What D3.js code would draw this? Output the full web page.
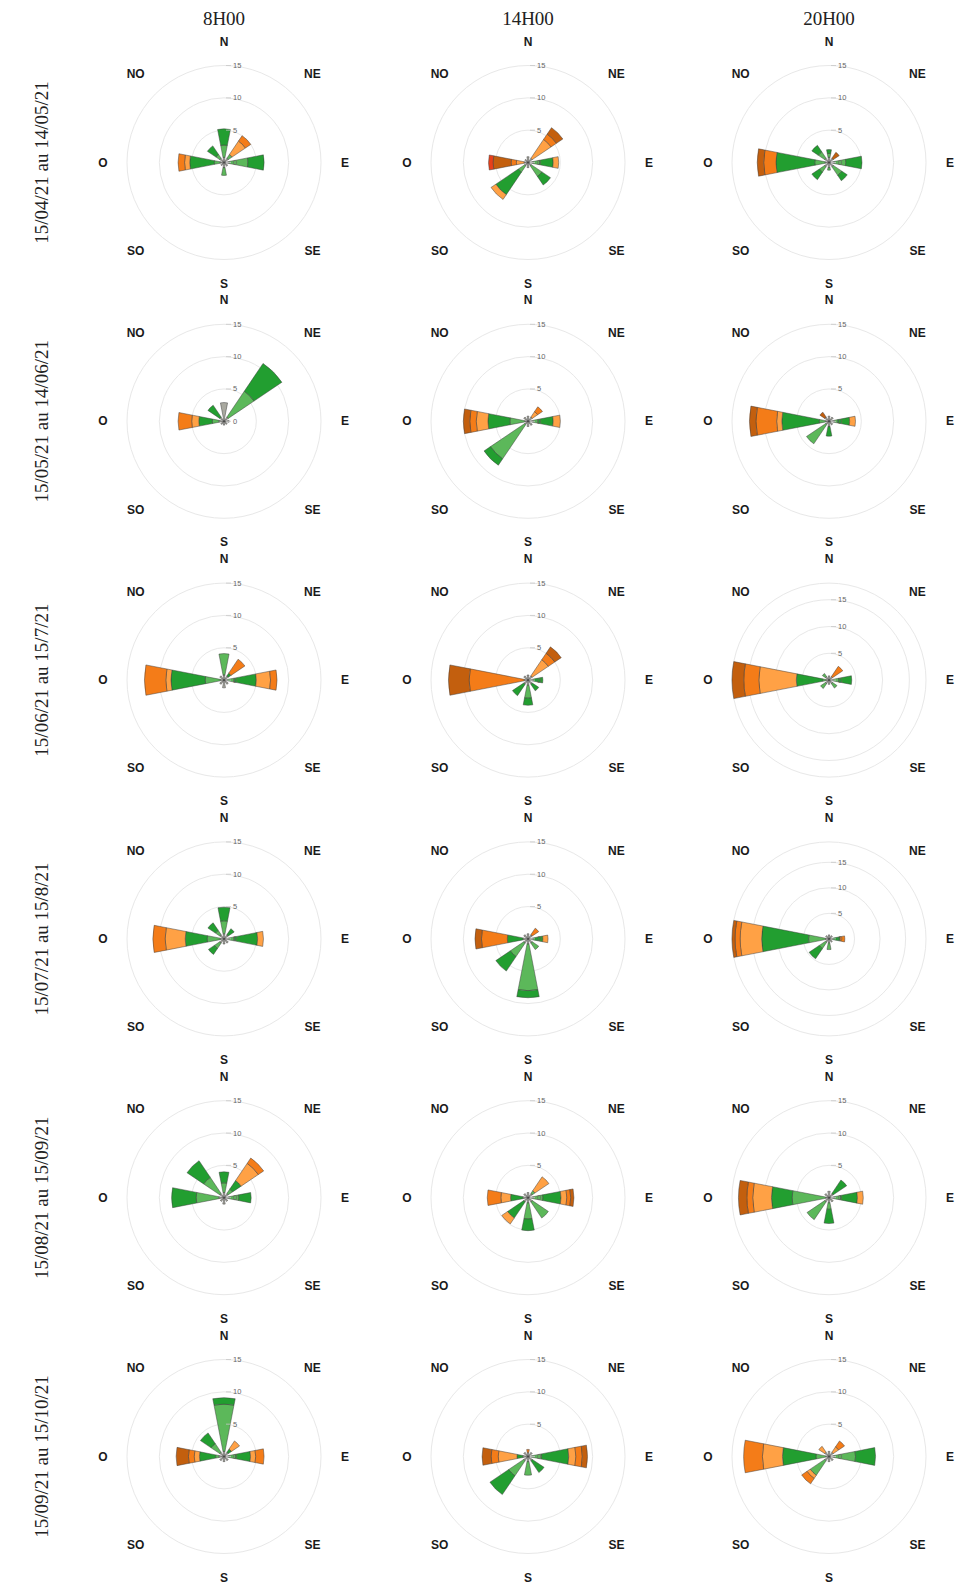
<!DOCTYPE html>
<html><head><meta charset="utf-8">
<script src="https://cdn.jsdelivr.net/npm/d3@7"></script>
<style>body{margin:0;background:#fff}</style>
</head><body>
<svg id="chart" width="979" height="1586"></svg>
<script>
// ---------- DATA ----------
const directions = ["N","NE","E","SE","S","SO","O","NO"];
const hours = ["8H00","14H00","20H00"];
const periods = ["15/04/21 au 14/05/21","15/05/21 au 14/06/21","15/06/21 au 15/7/21",
                 "15/07/21 au 15/8/21","15/08/21 au 15/09/21","15/09/21 au 15/10/21"];
const speedClasses = ["c0","c1","c2","c3","c4","c5","c6"];
const classColors = ["#a9a9a0","#5cb85a","#229e30","#ffa145","#f47c18","#c35f0e","#e8401a"];
const radialTicks = [0,5,10,15];
const baseMax = 15;

// each rose: per direction (N,NE,E,SE,S,SO,O,NO) the stacked frequency of each speed class
const r1_8h  = [[.8,1.9,2.5],[.8,.7,0,2.5,1.0],[.8,2.9,2.5],[.7],[.8,1.2],[.6],[.6,.9,3.8,.8,1.0],[.8,.7,1.6]];
const r1_14h = [[.9],[.8,0,0,3.5,1.0,1.2],[.8,1.0,2.1,.85],[.6,2.0,1.6],[.8],[.6,1.2,4.2,.9],[.6,0,0,1.2,.8,2.8,.7],[.6]];
const r1_20h = [[.8,.6,.6],[.8,0,0,0,0,1.1],[.8,1.8,2.5],[.8,1.6,1.0],[.8,.4],[.8,1.0,1.4],[.6,1.6,6.0,0,1.9,1.0],[.8,1.2,1.2]];
const r2_8h  = [[2.9],[.8,4.8,5.2],[.8],[.6],[.6],[.6],[.8,1.0,2.1,1.1,2.1],[.8,0,2.2]];
const r2_14h = [[.8],[.8,0,0,1.0,.9],[.8,.8,2.3,1.1],[.8],[.8],[.6,6.4,1.2],[.5,2.3,3.4,1.8,1.0,1.0],[.8]];
const r2_20h = [[.8],[.8],[.8,.6,1.8,.9],[.7],[.8,0,1.5],[.6,3.6],[.5,1.0,5.8,.8,3.2,1.0],[.8,0,0,0,0,.9]];
const r3_8h  = [[.8,3.3],[.8,0,.5,0,2.6],[.6,1.0,3.4,2.2,1.0],[.8],[1.2],[.8],[.6,2.3,5.3,.8,3.3],[.8]];
const r3_14h = [[.8],[.8,0,0,3.0,1.2,1.2],[.8,0,1.5],[.8,0,1.2],[.8,2.0,1.1],[.8,0,2.1],[.6,0,0,0,8.5,3.2],[.8]];
const r3_20h = [[.8],[.8,0,0,0,2.3],[.8,1.0,2.45],[.8,1.0],[.8],[.8,1.1],[.6,.6,4.9,7.0,2.8,2.2],[.8,.7]];
const r4_8h  = [[.8,2.0,2.1],[.8,0,1.1],[.8,.8,3.6,.9],[.8],[.8],[.8,1.0,1.1],[.6,2.0,3.4,3.1,1.9],[.8,.8,1.4]];
const r4_14h = [[.8],[.8,0,0,0,1.2],[.8,0,1.5,.8],[.8,1.2],[.8,7.2,1.1],[.8,2.5,2.7],[.8,0,2.4,0,4.0,1.0],[.8]];
const r4_20h = [[.8],[.8],[.8,0,1.4,0,.9],[.8],[.8,1.3],[.8,1.5,2.4],[.7,3.3,9.2,4.2,1.0,.6],[.8]];
const r5_8h  = [[.8,1.5,1.7],[.8,.8,1.6,3.2,1.0],[.8,1.5,1.9],[.7],[1.0],[.7],[.8,3.5,3.8],[.8,3.0,3.1]];
const r5_14h = [[.8],[.8,.5,0,2.6],[.8,1.5,2.8,.9,.6,.5],[.8,3.0],[.8,2.5,1.8],[.8,0,3.0,1.1],[.8,0,1.9,1.5,2.1],[.8]];
const r5_20h = [[1.0],[.8,0,2.5],[.8,1.0,2.6,.9],[.8],[.8,1.0,2.2],[.8,3.3],[.5,5.2,3.2,2.9,.9,1.3],[.8]];
const r6_8h  = [[.8,7.3,1.0],[.8,0,.6,1.5],[.8,1.0,2.3,.8,1.3],[.8],[.8],[.8],[.8,.5,2.5,.8,.9,1.9],[.8,1.6,2.0]];
const r6_14h = [[.6,0,0,0,.5],[.8],[.6,1.5,4.2,1.1,1.0,.8],[.8,0,2.2],[.8,2.1],[.8,2.8,3.5],[.8,0,.9,2.9,1.1,1.4],[.8]];
const r6_20h = [[.8],[.8,0,0,1.0,1.1],[.8,3.3,3.1],[.8],[.8],[.8,2.7,0,.6,1.0],[.5,1.5,5.2,3.1,2.9],[.8,0,0,1.1]];

const roseGrid = [
  [r1_8h, r1_14h, r1_20h],
  [r2_8h, r2_14h, r2_20h],
  [r3_8h, r3_14h, r3_20h],
  [r4_8h, r4_14h, r4_20h],
  [r5_8h, r5_14h, r5_20h],
  [r6_8h, r6_14h, r6_20h]
];

// ---------- LAYOUT ----------
const svg = d3.select("#chart");
const rowY = d3.scalePoint(periods, [162.5, 1456.5]);
const colX = d3.scaleOrdinal(hours, [224, 528, 829]);
const angle = d3.scalePoint(directions, [0, 2 * Math.PI * 7 / 8]);
const halfW = 11 * Math.PI / 180;
const R = 97;
const color = d3.scaleOrdinal(speedClasses, classColors);
const stack = d3.stack().keys(speedClasses);

// headers
svg.selectAll("text.hour").data(hours).join("text")
  .attr("x", d => colX(d)).attr("y", 18)
  .attr("text-anchor", "middle").attr("dominant-baseline", "central")
  .style("font-family", "'Liberation Serif','DejaVu Serif',serif").style("font-size", "19px")
  .attr("fill", "#222").text(d => d);

svg.selectAll("text.period").data(periods).join("text")
  .attr("transform", d => `translate(41,${rowY(d)}) rotate(-90)`)
  .attr("text-anchor", "middle").attr("dominant-baseline", "central")
  .style("font-family", "'Liberation Serif','DejaVu Serif',serif").style("font-size", "19px")
  .attr("fill", "#222").text(d => d);

roseGrid.forEach((row, ri) => {
  row.forEach((rose, ci) => {
    const cx = colX(hours[ci]), cy = rowY(periods[ri]);
    const table = directions.map((dir, di) => {
      const o = { dir };
      speedClasses.forEach((k, ki) => o[k] = rose[di][ki] || 0);
      return o;
    });
    const series = stack(table);
    const maxTotal = d3.max(series[series.length - 1], d => d[1]);
    const rMax = Math.max(baseMax, maxTotal);
    const r = d3.scaleLinear([0, rMax], [0, R]);
    const g = svg.append("g").attr("transform", `translate(${cx},${cy})`);

    // grid circles
    const ringVals = radialTicks.filter(v => v > 0);
    g.selectAll("circle.ring").data(ringVals).join("circle")
      .attr("r", d => r(d)).attr("fill", "none").attr("stroke", "#e8e8e8").attr("stroke-width", 1);
    if (rMax > baseMax) {
      g.append("circle").attr("r", r(rMax)).attr("fill", "none").attr("stroke", "#e8e8e8");
    }

    // petals
    const arc = d3.arc();
    series.forEach(s => {
      g.selectAll(null).data(s.filter(d => d[1] - d[0] > 0)).join("path")
        .attr("d", d => {
          const a = angle(d.data.dir);
          return arc({ innerRadius: r(d[0]), outerRadius: r(d[1]), startAngle: a - halfW, endAngle: a + halfW });
        })
        .attr("fill", color(s.key))
        .attr("stroke", "#3a3a3a").attr("stroke-width", 0.6).attr("stroke-opacity", 0.8);
    });

    // radial ticks
    g.selectAll("line.tick").data(radialTicks).join("line")
      .attr("x1", 2).attr("x2", 7).attr("y1", d => -r(d)).attr("y2", d => -r(d))
      .attr("stroke", "#c8c8c8").attr("stroke-width", 0.8);
    g.selectAll("text.tick").data(radialTicks).join("text")
      .attr("x", 9).attr("y", d => -r(d)).attr("dominant-baseline", "central")
      .style("font-family", "'Liberation Sans',Arial,sans-serif").style("font-size", "7.5px")
      .attr("fill", "#666").text(d => d);

    // direction labels
    g.selectAll("text.dir").data(directions).join("text")
      .attr("x", d => Math.sin(angle(d)) * (d.length > 1 ? 125 : 121))
      .attr("y", d => -Math.cos(angle(d)) * (d.length > 1 ? 125 : 121))
      .attr("text-anchor", "middle").attr("dominant-baseline", "central")
      .style("font-family", "'Liberation Sans',Arial,sans-serif").style("font-size", "12px")
      .style("font-weight", "bold").attr("fill", "#1a1a1a").text(d => d);
  });
});
</script>
</body></html>
